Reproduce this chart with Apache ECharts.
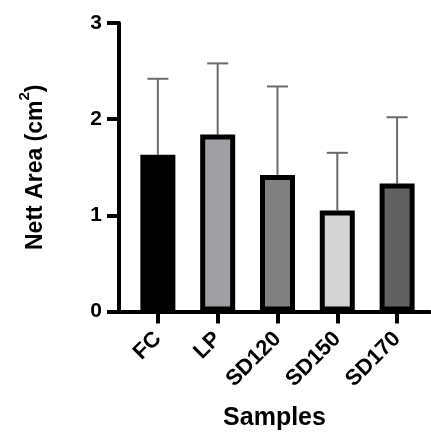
<!DOCTYPE html>
<html>
<head>
<meta charset="utf-8">
<script src="https://cdn.jsdelivr.net/npm/echarts@6/dist/echarts.min.js"></script>
<style>html,body{margin:0;padding:0;background:#fff}#c{width:431px;height:432px}</style>
</head>
<body>
<div id="c"></div>
<script>
const categories = ['FC', 'LP', 'SD120', 'SD150', 'SD170'];
const means = [1.63, 1.84, 1.42, 1.05, 1.33];
const sds = [0.79, 0.74, 0.92, 0.60, 0.69];
const colors = ['#000000', '#a0a0a4', '#808080', '#d4d4d4', '#616161'];
const yTicks = [0, 1, 2, 3];

const idx = categories.map((c, i) => i);
const font = 'Liberation Sans, Arial, sans-serif';

const chart = echarts.init(document.getElementById('c'), null, {renderer: 'canvas'});
chart.setOption({
  animation: false,
  backgroundColor: '#fff',
  grid: {left: 119, right: 1, top: 23, bottom: 120.5, outerBoundsMode: 'none', containLabel: false},
  xAxis: {
    type: 'value', min: -0.65, max: 4.55,
    splitLine: {show: false},
    axisLine: {show: true, lineStyle: {color: '#000', width: 4}},
    axisTick: {show: true, customValues: idx, length: 12, lineStyle: {color: '#000', width: 4}},
    axisLabel: {
      customValues: idx, rotate: 45, margin: 24,
      formatter: v => categories[Math.round(v)] || '',
      color: '#000', fontWeight: 'bold', fontSize: 22, fontFamily: font
    },
    name: 'Samples', nameLocation: 'middle', nameGap: 94,
    nameTextStyle: {color: '#000', fontWeight: 'bold', fontSize: 25, fontFamily: font}
  },
  yAxis: {
    type: 'value', min: 0, max: 3, interval: 1,
    splitLine: {show: false},
    axisLine: {show: true, onZero: false, lineStyle: {color: '#000', width: 4}},
    axisTick: {show: true, length: 12, lineStyle: {color: '#000', width: 4}},
    axisLabel: {margin: 17, color: '#000', fontWeight: 'bold', fontSize: 21, fontFamily: font,
      formatter: v => yTicks.includes(v) ? String(v) : ''},
    name: '{m|Nett Area (cm}{sup|2}{m|)}', nameLocation: 'middle', nameGap: 72,
    nameTextStyle: {
      color: '#000', fontWeight: 'bold', fontSize: 23, fontFamily: font,
      rich: {
        m: {color: '#000', fontWeight: 'bold', fontSize: 23, fontFamily: font, verticalAlign: 'bottom', lineHeight: 30},
        sup: {color: '#000', fontWeight: 'bold', fontSize: 15, fontFamily: font, verticalAlign: 'top', lineHeight: 30}
      }
    }
  },
  series: [
    {
      type: 'custom',
      z: 1,
      renderItem: (params, api) => {
        const x = api.value(0), m = api.value(1), s = api.value(2);
        const p0 = api.coord([x, m]);
        const p1 = api.coord([x, m + s]);
        const half = 10.5;
        const style = {stroke: '#6b6b6b', lineWidth: 2};
        return {type: 'group', children: [
          {type: 'line', shape: {x1: p0[0], y1: p0[1], x2: p1[0], y2: p1[1]}, style},
          {type: 'line', shape: {x1: p1[0] - half, y1: p1[1], x2: p1[0] + half, y2: p1[1]}, style}
        ]};
      },
      data: idx.map(i => [i, means[i], sds[i]])
    },
    {
      type: 'bar',
      z: 2,
      barWidth: 35,
      data: idx.map(i => ({value: [i, means[i]], itemStyle: {color: colors[i], borderColor: '#000', borderWidth: 5}}))
    }
  ]
});
</script>
</body>
</html>
